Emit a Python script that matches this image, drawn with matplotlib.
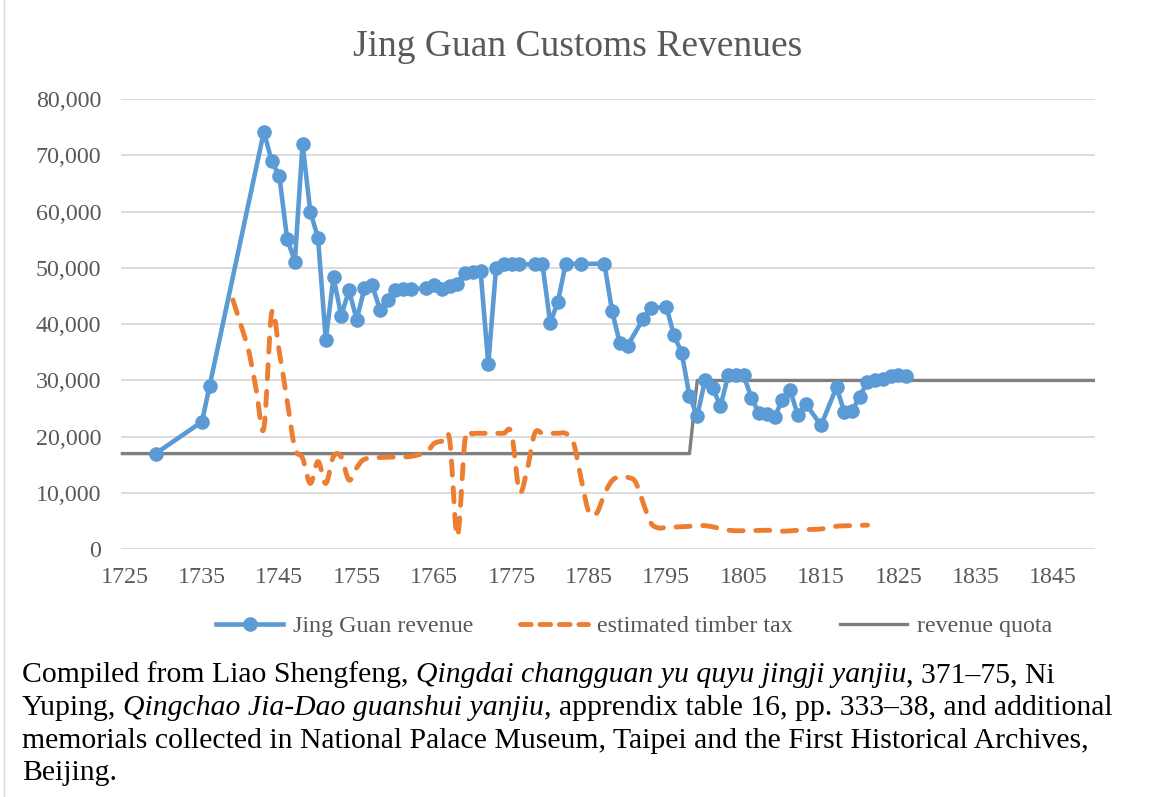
import numpy as np
import matplotlib
matplotlib.use("Agg")
import matplotlib.pyplot as plt
from matplotlib.lines import Line2D

# ---------------- data ----------------
rev_years = [1729, 1735, 1736, 1743, 1744, 1745, 1746, 1747, 1748, 1749, 1750,
             1751, 1752, 1753, 1754, 1755, 1756, 1757, 1758, 1759, 1760, 1761,
             1762, 1764, 1765, 1766, 1767, 1768, 1769, 1770, 1771, 1772, 1773,
             1774, 1775, 1776, 1778, 1779, 1780, 1781, 1782, 1784, 1787, 1788,
             1789, 1790, 1792, 1793, 1795, 1796, 1797, 1798, 1799, 1800, 1801,
             1802, 1803, 1804, 1805, 1806, 1807, 1808, 1809, 1810, 1811, 1812,
             1813, 1815, 1817, 1818, 1819, 1820, 1821, 1822, 1823, 1824, 1825,
             1826]
rev_values = [17000, 22650, 29100, 74200, 69000, 66300, 55200, 51100, 72000, 60000, 55300,
              37200, 48300, 41500, 46000, 40800, 46400, 46900, 42600, 44300, 46100, 46200,
              46200, 46400, 46900, 46300, 46800, 47200, 49100, 49300, 49500, 32900, 49900,
              50700, 50650, 50600, 50650, 50650, 40200, 44000, 50750, 50700, 50750, 42300,
              36600, 36200, 40900, 42800, 43100, 38000, 34900, 27200, 23700, 30000, 28700,
              25400, 30900, 30900, 30900, 26900, 24200, 24000, 23500, 26600, 28300, 23800,
              25900, 22000, 28800, 24400, 24600, 27100, 29800, 30000, 30200, 30800, 30900,
              30800]

timber_years = [1739, 1740, 1741, 1742, 1743, 1744, 1745, 1746, 1747, 1748, 1749,
                1750, 1751, 1752, 1753, 1754, 1755, 1756, 1758, 1760, 1762, 1764,
                1765, 1766, 1767, 1768, 1769, 1770, 1771, 1772, 1773, 1774, 1775,
                1776, 1777, 1778, 1779, 1780, 1781, 1782, 1783, 1784, 1785, 1786,
                1787, 1788, 1789, 1790, 1791, 1792, 1793, 1794, 1795, 1797, 1800,
                1803, 1805, 1808, 1810, 1813, 1815, 1817, 1819, 1821]
timber_values = [44300, 40000, 35500, 28500, 21500, 42000, 35000, 26500, 18000, 16200, 11700,
                 15600, 11700, 16500, 16400, 12300, 14500, 16000, 16300, 16400, 16500, 17300,
                 18800, 19200, 19500, 2300, 19500, 20500, 20600, 20600, 20600, 20600, 20600,
                 10300, 14000, 20600, 20600, 20600, 20600, 20600, 19000, 12500, 6600, 6400,
                 9800, 12200, 12900, 12800, 12000, 8300, 4700, 3800, 3900, 4000, 4200,
                 3400, 3300, 3400, 3200, 3500, 3600, 4100, 4200, 4300]

quota_years = [1724.5, 1798, 1799, 1850.4]
quota_values = [17000, 17000, 30000, 30000]

x_ticks = [1725, 1735, 1745, 1755, 1765, 1775, 1785, 1795, 1805, 1815, 1825, 1835, 1845]
y_ticks = [0, 10000, 20000, 30000, 40000, 50000, 60000, 70000, 80000]

title = "Jing Guan Customs Revenues"
labels = ["Jing Guan revenue", "estimated timber tax", "revenue quota"]

BLUE = "#5B9BD5"
ORANGE = "#ED7D31"
GRAY = "#7F7F7F"
TXT = "#595959"
SERIF = ["Liberation Serif", "DejaVu Serif"]

W, H = 1151, 797
fig = plt.figure(figsize=(W / 100, H / 100), dpi=100)
fig.patch.set_facecolor("white")

ax_l, ax_r, ax_t, ax_b = 120.7, 1095, 99, 549.3
ax = fig.add_axes([ax_l / W, 1 - ax_b / H, (ax_r - ax_l) / W, (ax_b - ax_t) / H])
ax.set_xlim(1724.5, 1850.4)
ax.set_ylim(0, 80000)

for s in ax.spines.values():
    s.set_visible(False)
ax.set_yticks(y_ticks)
ax.set_xticks(x_ticks)
ax.set_yticklabels([f"{v:,}" for v in y_ticks])
ax.set_xticklabels([str(v) for v in x_ticks])
ax.tick_params(axis="both", length=0, labelsize=17.3, labelcolor=TXT)
ax.tick_params(axis="y", pad=14)
ax.tick_params(axis="x", pad=13)
for lab in ax.get_xticklabels() + ax.get_yticklabels():
    lab.set_family(SERIF)
ax.grid(axis="y", color="#D9D9D9", linewidth=1.3)
ax.set_axisbelow(True)

# quota
ax.plot(quota_years, quota_values, color=GRAY, lw=2.4, solid_capstyle="butt", zorder=2,
        clip_on=False)

# smoothed timber (Bezier smoothing in pixel space, like Excel)
pw = (ax_r - ax_l)
ph = (ax_b - ax_t)
x0, x1 = ax.get_xlim()
y0, y1 = ax.get_ylim()
px = (np.array(timber_years, float) - x0) / (x1 - x0) * pw
py = (np.array(timber_values, float) - y0) / (y1 - y0) * ph
P = np.column_stack([px, py])
pts = []
n = len(P)
for i in range(n - 1):
    p0 = P[i - 1] if i > 0 else P[i]
    p1 = P[i]
    p2 = P[i + 1]
    p3 = P[i + 2] if i + 2 < n else P[i + 1]
    c1 = p1 + (p2 - p0) / 6.0
    c2 = p2 - (p3 - p1) / 6.0
    t = np.linspace(0, 1, 30)[:, None]
    seg = ((1 - t) ** 3) * p1 + 3 * ((1 - t) ** 2) * t * c1 + 3 * (1 - t) * t ** 2 * c2 + t ** 3 * p2
    if i > 0:
        seg = seg[1:]
    pts.append(seg)
pts = np.vstack(pts)
sx = pts[:, 0] / pw * (x1 - x0) + x0
sy = pts[:, 1] / ph * (y1 - y0) + y0
ln, = ax.plot(sx, sy, color=ORANGE, lw=3.5, zorder=3)
ln.set_dashes((2.9, 2.6))
ln.set_dash_capstyle("round")

# revenue
ax.plot(rev_years, rev_values, color=BLUE, lw=3.3, marker="o", markersize=10.5,
        markeredgewidth=0, zorder=4, solid_joinstyle="round")

# title
fig.text(578 / W, 1 - 47 / H, title, ha="center", va="center", fontsize=27,
         color=TXT, family=SERIF)

# legend
h1 = Line2D([], [], color=BLUE, lw=3.3, marker="o", markersize=10.5, markeredgewidth=0)
h2 = Line2D([], [], color=ORANGE, lw=3.5, dashes=(2.2, 1.8), dash_capstyle="round")
h3 = Line2D([], [], color=GRAY, lw=2.4)
leg = fig.legend([h1, h2, h3], labels, loc="center", bbox_to_anchor=(634 / W, 1 - 626 / H),
                 ncol=3, frameon=False, handlelength=2.8, handletextpad=0.4,
                 columnspacing=1.95, prop={"family": SERIF, "size": 17.3}, labelcolor=TXT)

# border
fig.add_artist(Line2D([4 / W, 4 / W], [0, 1], color="#D9D9D9", lw=1.0))

# caption with italic segments
fig.canvas.draw()
renderer = fig.canvas.get_renderer()
cap_lines = [
    [("Compiled from Liao Shengfeng, ", "normal"),
     ("Qingdai changguan yu quyu jingji yanjiu", "italic"),
     (", 371\u201375, Ni", "normal")],
    [("Yuping, ", "normal"),
     ("Qingchao Jia-Dao guanshui yanjiu", "italic"),
     (", apprendix table 16, pp. 333\u201338, and additional", "normal")],
    [("memorials collected in National Palace Museum, Taipei and the First Historical Archives,", "normal")],
    [("Beijing.", "normal")],
]
base_y = [682, 715, 748, 780]
for line, by in zip(cap_lines, base_y):
    xpix = 22
    for txt, style in line:
        t = fig.text(xpix / W, 1 - by / H, txt, ha="left", va="baseline", fontsize=21.4,
                     color="black", family=SERIF, style=style)
        bb = t.get_window_extent(renderer)
        xpix += bb.width

fig.savefig("out.png", dpi=100, facecolor="white")
